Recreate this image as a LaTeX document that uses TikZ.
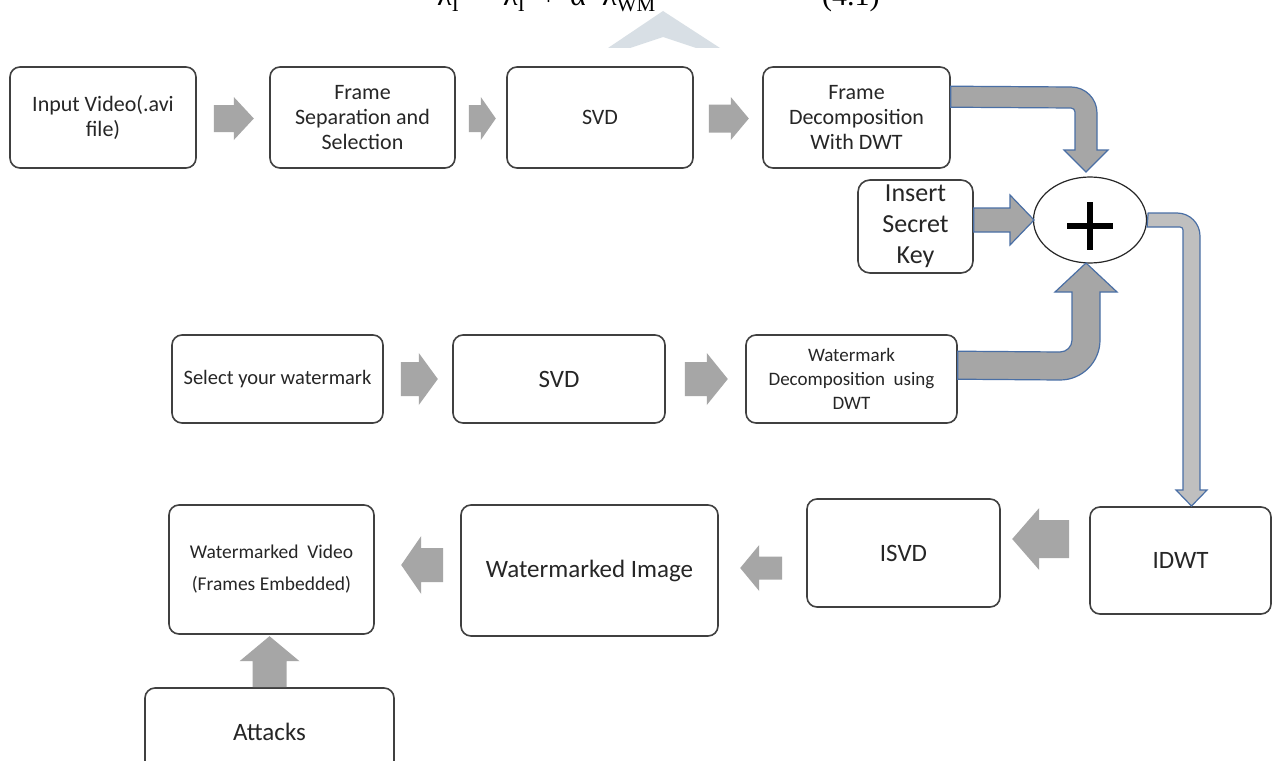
\documentclass[tikz,border=0pt]{standalone}
\usepackage{fontspec}
\setmainfont{Carlito}
\newfontfamily\eqfont{Liberation Serif}
\usetikzlibrary{calc,shapes.geometric}
\definecolor{boxline}{HTML}{404040}
\definecolor{txt}{HTML}{262626}
\definecolor{blk}{HTML}{A6A6A6}
\definecolor{bentblue}{HTML}{4A6FA5}
\definecolor{bentlight}{HTML}{BFBFBF}
\definecolor{wmark}{HTML}{D8DFE5}
% #1 style, #2 tail centre, #3 angle, #4 length, #5 head length, #6 shaft half width, #7 head half width
\newcommand\barrow[7]{%
  \fill[#1,shift={#2},rotate=#3] (0,-#6) -- (#4-#5,-#6) -- (#4-#5,-#7) -- (#4,0) -- (#4-#5,#7) -- (#4-#5,#6) -- (0,#6) -- cycle;}
\begin{document}
\begin{tikzpicture}[x=1pt,y=-1pt,
  box/.style={draw=boxline,line width=1.6pt,rounded corners=10pt,fill=white,align=center,inner sep=0pt,text=txt},
  fa/.style={font={\fontsize{22}{25}\selectfont}},
  fb/.style={font={\fontsize{25}{30}\selectfont}},
  fc/.style={font={\fontsize{19}{24}\selectfont}},
  eq/.style={font={\eqfont\fontsize{30}{36}\selectfont},inner sep=0pt,anchor=base west},
  bent/.style={fill=blk,draw=bentblue,line width=1.2pt,line join=miter},
  bentL/.style={fill=bentlight,draw=bentblue,line width=1.2pt,line join=miter}]
\useasboundingbox (0,0) rectangle (1273,760);
\fill[white] (0,0) rectangle (1273,760);
% cropped equation and background mark
\fill[wmark] (608,48) -- (663,11) -- (720,48) -- (696,48) -- (663,37) -- (630,48) -- cycle;
\node[eq] (e1) at (437,6) {λ\textsubscript{I}};
\node[eq] (e2) at (478,6) {=};
\node[eq] (e3) at (503,6) {λ\textsubscript{I}};
\node[eq] (e4) at (540,6) {+};
\node[eq] (e5) at (570,6) {α};
\node[eq] (e6) at (602,6) {λ\textsubscript{WM}};
\node[eq] (e7) at (822,6) {(4.1)};
% top row
\node[box,fa,minimum width=186pt,minimum height=101pt] (n1) at (103,117.5) {Input Video(.avi\\file)};
\node[box,fa,minimum width=185pt,minimum height=101pt] (n2) at (362.5,117.5) {Frame\\Separation and\\Selection};
\node[box,fa,minimum width=186pt,minimum height=101pt] (n3) at (600,117.5) {SVD};
\node[box,fa,minimum width=187pt,minimum height=101pt] (n4) at (856.5,117.5) {Frame\\Decomposition\\With DWT};
% key and sum
\node[box,font={\fontsize{26}{31}\selectfont},rounded corners=12pt,minimum width=115pt,minimum height=93pt] (key) at (915.5,226.5) {Insert\\Secret\\Key};
\node[ellipse,draw=black!85,line width=1.2pt,fill=white,minimum width=113pt,minimum height=86pt,inner sep=0pt] (sum) at (1090,220) {};
\draw[line width=5.5pt] ($(sum.center)+(-23,6)$) -- ($(sum.center)+(23,6)$);
\draw[line width=5.5pt] ($(sum.center)+(0,-18)$) -- ($(sum.center)+(0,30)$);
% middle row
\node[box,font={\fontsize{20.5}{24}\selectfont},minimum width=211pt,minimum height=88pt] (m1) at (277.5,379) {Select your watermark};
\node[box,fb,minimum width=212pt,minimum height=88pt] (m2) at (559,379) {SVD};
\node[box,fc,minimum width=211pt,minimum height=88pt] (m3) at (851.5,379) {Watermark\\Decomposition~~using\\DWT};
% bottom row
\node[box,fb,minimum width=181pt,minimum height=107pt] (b4) at (1180.5,560.5) {IDWT};
\node[box,fb,minimum width=193pt,minimum height=108pt] (b3) at (903.5,553) {ISVD};
\node[box,fb,minimum width=257pt,minimum height=131pt] (b2) at (589.5,570.5) {Watermarked Image};
\node[box,font={\fontsize{19.5}{32}\selectfont},minimum width=205pt,minimum height=129pt] (b1) at (271.5,569.5) {Watermarked~~Video\\(Frames Embedded)};
\node[box,fb,minimum width=249pt,minimum height=87pt] (att) at (269.5,731.5) {Attacks};
% block arrows
\barrow{blk}{($(n1.east)+(17,1)$)}{0}{40}{20}{13.5}{21.5}
\barrow{blk}{($(n2.east)+(13,1)$)}{0}{27}{15}{13.5}{21.5}
\barrow{blk}{($(n3.east)+(15,1)$)}{0}{40}{18}{14}{21.5}
\barrow{blk}{($(m1.east)+(17,0)$)}{0}{37}{19}{17}{26}
\barrow{blk}{($(m2.east)+(19,0)$)}{0}{43}{21}{17}{26}
\barrow{blk}{($(b4.west)+(-20,-21.5)$)}{180}{57}{27}{19}{31}
\barrow{blk}{($(b3.west)+(-24,15)$)}{180}{42}{19}{11.5}{23}
\barrow{blk}{($(b2.west)+(-17,-5.5)$)}{180}{42}{20}{17}{29}
\barrow{blk}{(att.north)}{90}{51}{25}{17}{30}
% bent arrows into and out of the sum
\coordinate (fdA) at ($(n4.north east)+(0,20)$);
\coordinate (fdB) at ($(n4.north east)+(0,41)$);
\filldraw[bent] (fdA) -- (1071,87) .. controls (1085.4,87) and (1097,98.6) .. (1097,113) -- (1097,150) -- (1108,150) -- (1086,172) -- (1064,150) -- (1075,150) -- (1075,112) .. controls (1075,109.8) and (1073.2,108) .. (1071,108) -- (fdB) -- cycle;
\coordinate (wdA) at ($(m3.north east)+(0,17)$);
\coordinate (wdB) at ($(m3.north east)+(0,45)$);
\filldraw[bent] (wdA) -- (1060,352) .. controls (1066.6,352) and (1072,346.6) .. (1072,340) -- (1072,292) -- (1055,292) -- (1086,263) -- (1117,292) -- (1100,292) -- (1100,340) .. controls (1100,362.1) and (1082.1,380) .. (1060,380) -- (wdB) -- cycle;
\filldraw[bent] ($(key.east)+(0,-18.5)$) -- (1010,208) -- (1010,195) -- (1034,220) -- (1010,245) -- (1010,232) -- ($(key.east)+(0,5.5)$) -- cycle;
\coordinate (sR) at ($(sum.east)+(1,-7)$);
\coordinate (sRb) at ($(sum.east)+(0,7)$);
\filldraw[bentL] (sR) -- (1177,213) .. controls (1189.7,213) and (1200,223.3) .. (1200,236) -- (1200,490) -- (1207,490) -- (1191.5,506) -- (1176,490) -- (1183,490) -- (1183,230) .. controls (1183,228.3) and (1181.7,227) .. (1180,227) -- (sRb) -- cycle;
\end{tikzpicture}
\end{document}
